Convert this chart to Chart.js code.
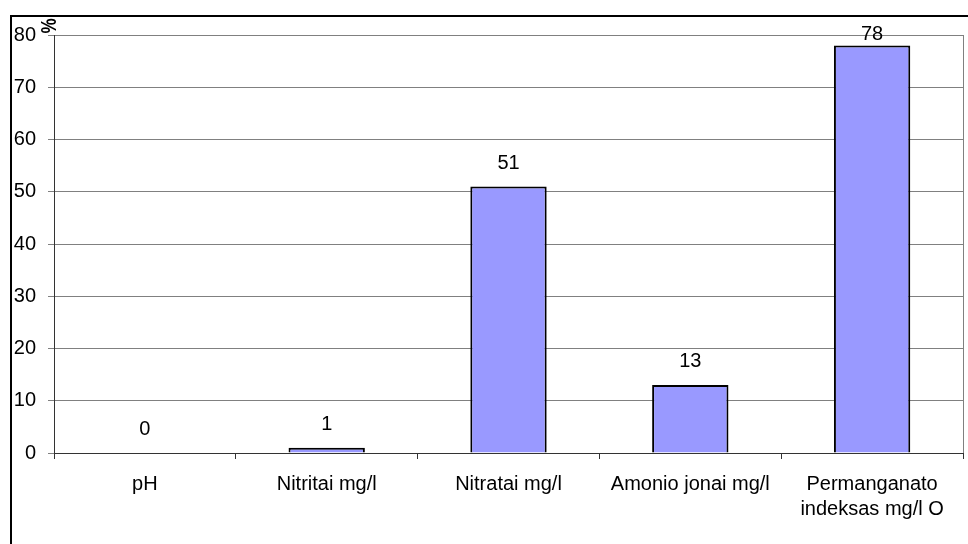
<!DOCTYPE html>
<html>
<head>
<meta charset="utf-8">
<script src="https://cdn.jsdelivr.net/npm/chart.js@4/dist/chart.umd.min.js"></script>
<style>
  html, body { margin: 0; padding: 0; background: #fff; overflow: hidden; }
  #wrap { width: 968px; height: 544px; }
</style>
</head>
<body>
<div id="wrap"><canvas id="chart" width="968" height="544"></canvas></div>
<script>
const categories = ["pH", "Nitritai mg/l", "Nitratai mg/l", "Amonio jonai mg/l", ["Permanganato", "indeksas mg/l O"]];
const values = [0, 1, 51, 13, 78];
const yMax = 80;
const yStep = 10;
const unitLabel = "%";

const FONT = "'Liberation Sans', Arial, sans-serif";

// outer frame, plot border and "%" unit
const framePlugin = {
  id: "frame",
  beforeDraw(chart) {
    const ctx = chart.ctx;
    ctx.save();
    ctx.fillStyle = "#fff";
    ctx.fillRect(0, 0, chart.width, chart.height);
    ctx.strokeStyle = "#000";
    ctx.lineWidth = 2;
    ctx.strokeRect(11, 16, 1200, 1200);
    ctx.restore();
  },
  afterDraw(chart) {
    const ctx = chart.ctx;
    const a = chart.chartArea;
    ctx.save();
    ctx.strokeStyle = "#808080";
    ctx.lineWidth = 1;
    ctx.beginPath();
    ctx.moveTo(Math.round(a.right) + 0.5, a.top);
    ctx.lineTo(Math.round(a.right) + 0.5, a.bottom);
    ctx.stroke();
    ctx.translate(a.left - 4, a.top - 9);
    ctx.rotate(-Math.PI / 2);
    ctx.scale(1, 1.25);
    ctx.fillStyle = "#000";
    ctx.font = "bold 17px " + FONT;
    ctx.textAlign = "center";
    ctx.textBaseline = "middle";
    ctx.fillText(unitLabel, 0, 0);
    ctx.restore();
  }
};

// value labels above the bars
const valuePlugin = {
  id: "values",
  afterDatasetsDraw(chart) {
    const ctx = chart.ctx;
    const meta = chart.getDatasetMeta(0);
    ctx.save();
    ctx.fillStyle = "#000";
    ctx.font = "20px " + FONT;
    ctx.textAlign = "center";
    ctx.textBaseline = "alphabetic";
    meta.data.forEach((bar, i) => {
      const y = Math.max(bar.y - 18, chart.chartArea.top + 5);
      ctx.fillText(String(values[i]), bar.x, y);
    });
    ctx.restore();
  }
};

new Chart(document.getElementById("chart"), {
  type: "bar",
  data: {
    labels: categories,
    datasets: [{
      data: values,
      backgroundColor: "#9999ff",
      borderColor: "#000",
      borderWidth: 2,
      categoryPercentage: 1,
      barPercentage: 0.42
    }]
  },
  options: {
    responsive: false,
    animation: false,
    devicePixelRatio: 1,
    layout: { padding: { top: 35, right: 5, left: 0, bottom: 0 } },
    plugins: {
      legend: { display: false },
      tooltip: { enabled: false }
    },
    scales: {
      x: {
        afterFit(scale) { scale.height = 91; },
        grid: { drawOnChartArea: false, color: "#333", tickLength: 6 },
        border: { color: "#333", width: 1 },
        ticks: {
          color: "#000",
          padding: 13,
          maxRotation: 0,
          autoSkip: false,
          font: { family: FONT, size: 20, lineHeight: 1.25 }
        }
      },
      y: {
        min: 0,
        max: yMax,
        afterFit(scale) { scale.width = 54; },
        grid: { color: "#808080", tickColor: "#808080", tickLength: 6 },
        border: { color: "#333", width: 1 },
        ticks: {
          stepSize: yStep,
          color: "#000",
          padding: 12,
          font: { family: FONT, size: 20 }
        }
      }
    }
  },
  plugins: [framePlugin, valuePlugin]
});
</script>
</body>
</html>
